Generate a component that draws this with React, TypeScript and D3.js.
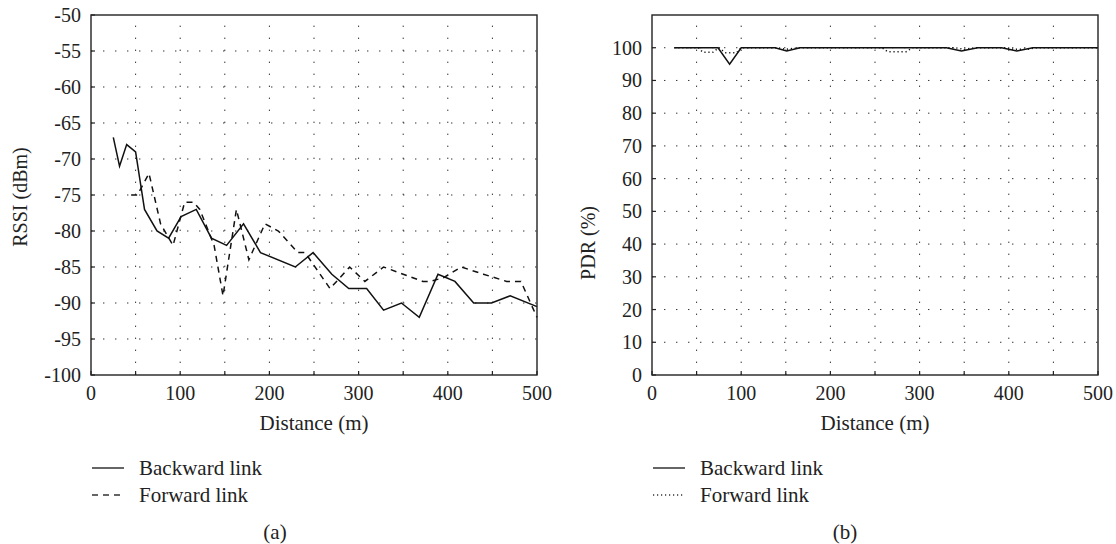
import React from "react";
import * as d3 from "d3";

// ---- Data ----
const rssiBackwardDist = [25, 32, 40, 50, 60, 74, 87, 101, 118, 135, 152, 171, 190, 229, 249, 270, 289, 309, 328, 348, 368, 389, 408, 429, 449, 470, 500];
const rssiBackward = [-67, -71, -68, -69, -77, -80, -81, -78, -77, -81, -82, -79, -83, -85, -83, -86, -88, -88, -91, -90, -92, -86, -87, -90, -90, -89, -90.5];

const rssiForwardDist = [45, 52, 65, 78, 92, 105, 115, 122, 138, 148, 163, 177, 195, 210, 232, 240, 268, 290, 307, 328, 350, 372, 380, 395, 415, 440, 466, 482, 500];
const rssiForward = [-75, -75, -72, -79, -82, -76, -76, -77, -82, -89, -77, -84, -79, -80, -83, -83, -88, -85, -87, -85, -86, -87, -87, -86.5, -85, -86, -87, -87, -92];

const pdrBackwardDist = [25, 74, 87, 100, 138, 151, 166, 330, 347, 365, 392, 409, 427, 500];
const pdrBackward = [100, 100, 95, 100, 100, 99, 100, 100, 99, 100, 100, 99, 100, 100];

const pdrForwardDist = [25, 52, 57, 68, 75, 82, 95, 100, 140, 150, 165, 258, 264, 285, 292, 340, 350, 362, 398, 405, 420, 430, 500];
const pdrForward = [100, 100, 98.6, 98.6, 100, 98.5, 98.5, 100, 100, 99.5, 100, 100, 98.8, 98.8, 100, 100, 99.5, 100, 100, 99.5, 99.5, 100, 100];

const xTicks = [0, 100, 200, 300, 400, 500];
const xMinor = [0, 50, 100, 150, 200, 250, 300, 350, 400, 450, 500];
const rssiTicks = [-100, -95, -90, -85, -80, -75, -70, -65, -60, -55, -50];
const pdrTicks = [0, 10, 20, 30, 40, 50, 60, 70, 80, 90, 100];

const FONT = "'Liberation Serif', 'DejaVu Serif', serif";
const TXT = "#222";

type Series = { xs: number[]; ys: number[]; dash?: string };

function Panel(props: {
  x0: number;
  x1: number;
  yDomain: [number, number];
  yTicks: number[];
  yLabel: string;
  yLabelX: number;
  yLabelY: number;
  series: Series[];
  legend: { label: string; dash?: string }[];
  caption: string;
  captionX: number;
}) {
  const top = 15;
  const bottom = 375;
  const x = d3.scaleLinear().domain([0, 500]).range([props.x0, props.x1]);
  const y = d3.scaleLinear().domain(props.yDomain).range([bottom, top]);
  const line = d3
    .line<[number, number]>()
    .x((d) => x(d[0]))
    .y((d) => y(d[1]));
  const gridDash = "1.4 10.6";
  const legX = props.x0 + 1;
  return (
    <g fontFamily={FONT} fill={TXT}>
      {/* grid */}
      {xMinor
        .filter((v) => v > 0 && v < 500)
        .map((v) => (
          <line key={"gx" + v} x1={x(v)} x2={x(v)} y1={bottom} y2={top} stroke="#333" strokeWidth={1} strokeDasharray={gridDash} />
        ))}
      {props.yTicks
        .filter((v) => y(v) > top + 1 && y(v) < bottom - 1)
        .map((v) => (
          <line key={"gy" + v} x1={props.x0} x2={props.x1} y1={y(v)} y2={y(v)} stroke="#333" strokeWidth={1} strokeDasharray={gridDash} />
        ))}
      {/* ticks */}
      {xMinor.map((v) => (
        <line key={"tx" + v} x1={x(v)} x2={x(v)} y1={bottom} y2={bottom - 4} stroke="#222" strokeWidth={1.2} />
      ))}
      {props.yTicks.map((v) => (
        <line key={"ty" + v} x1={props.x0} x2={props.x0 + 4} y1={y(v)} y2={y(v)} stroke="#222" strokeWidth={1.2} />
      ))}
      {/* data */}
      {props.series.map((s, i) => (
        <path
          key={"s" + i}
          d={line(s.xs.map((v, j) => [v, s.ys[j]] as [number, number])) || ""}
          fill="none"
          stroke="#111"
          strokeWidth={1.5}
          strokeDasharray={s.dash}
        />
      ))}
      {/* frame */}
      <rect x={props.x0} y={top} width={props.x1 - props.x0} height={bottom - top} fill="none" stroke="#222" strokeWidth={1.4} />
      {/* tick labels */}
      {xTicks.map((v) => (
        <text key={"lx" + v} x={x(v)} y={400} textAnchor="middle" fontSize={20}>
          {v}
        </text>
      ))}
      {props.yTicks.map((v) => (
        <text key={"ly" + v} x={props.x0 - 10} y={y(v)} dy="0.35em" textAnchor="end" fontSize={20}>
          {v}
        </text>
      ))}
      {/* axis titles */}
      <text x={(props.x0 + props.x1) / 2} y={430} textAnchor="middle" fontSize={21}>
        Distance (m)
      </text>
      <text
        transform={`translate(${props.yLabelX},${props.yLabelY}) rotate(-90)`}
        textAnchor="middle"
        dy="0.35em"
        fontSize={20}
      >
        {props.yLabel}
      </text>
      {/* legend */}
      {props.legend.map((l, i) => (
        <g key={"lg" + i}>
          <line x1={legX} x2={legX + 32} y1={468 + i * 27} y2={468 + i * 27} stroke="#333" strokeWidth={1.5} strokeDasharray={l.dash} />
          <text x={props.x0 + 48} y={468 + i * 27} dy="0.35em" fontSize={21}>
            {l.label}
          </text>
        </g>
      ))}
      <text x={props.captionX} y={532} dy="0.35em" textAnchor="middle" fontSize={21}>
        {props.caption}
      </text>
    </g>
  );
}

export default function App() {
  return (
    <svg
      width={1116}
      height={544}
      style={{ position: "absolute", left: 0, top: 0, background: "#fff" }}
    >
      <rect width={1116} height={544} fill="#fff" />
      <Panel
        x0={91}
        x1={537}
        yDomain={[-100, -50]}
        yTicks={rssiTicks}
        yLabel="RSSI (dBm)"
        yLabelX={20}
        yLabelY={197}
        series={[
          { xs: rssiBackwardDist, ys: rssiBackward },
          { xs: rssiForwardDist, ys: rssiForward, dash: "6 5" },
        ]}
        legend={[
          { label: "Backward link" },
          { label: "Forward link", dash: "6 5" },
        ]}
        caption="(a)"
        captionX={275}
      />
      <Panel
        x0={652}
        x1={1098}
        yDomain={[0, 110]}
        yTicks={pdrTicks}
        yLabel="PDR (%)"
        yLabelX={588}
        yLabelY={243}
        series={[
          { xs: pdrBackwardDist, ys: pdrBackward },
          { xs: pdrForwardDist, ys: pdrForward, dash: "1.2 2.8" },
        ]}
        legend={[
          { label: "Backward link" },
          { label: "Forward link", dash: "1.2 2.8" },
        ]}
        caption="(b)"
        captionX={845}
      />
    </svg>
  );
}
